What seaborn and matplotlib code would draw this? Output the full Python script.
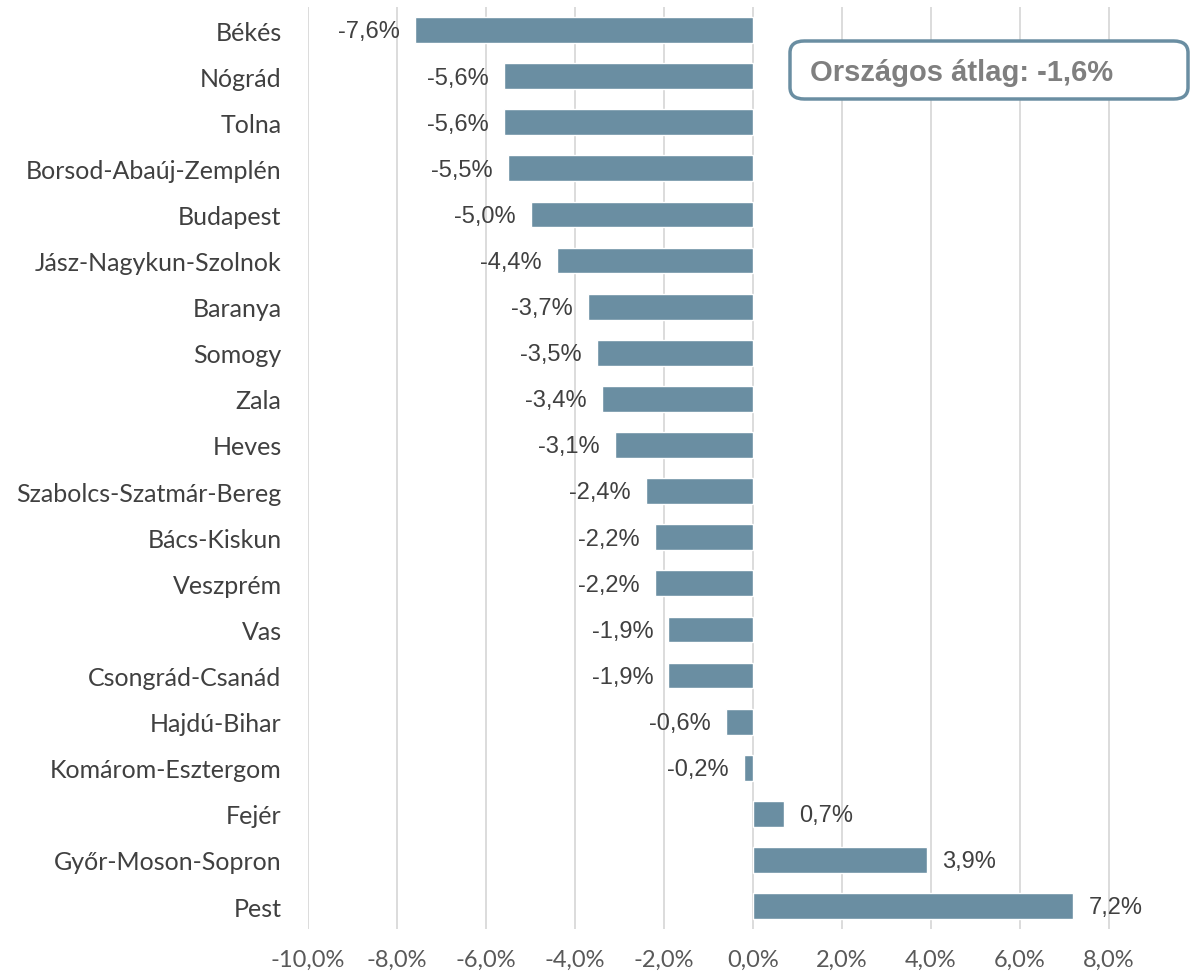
import matplotlib
matplotlib.use('Agg')
import matplotlib.pyplot as plt
import seaborn as sns
import pandas as pd
from matplotlib.patches import FancyBboxPatch

# megyék és a változás (%)
megyek = ['Békés', 'Nógrád', 'Tolna', 'Borsod-Abaúj-Zemplén', 'Budapest',
          'Jász-Nagykun-Szolnok', 'Baranya', 'Somogy', 'Zala', 'Heves',
          'Szabolcs-Szatmár-Bereg', 'Bács-Kiskun', 'Veszprém', 'Vas',
          'Csongrád-Csanád', 'Hajdú-Bihar', 'Komárom-Esztergom', 'Fejér',
          'Győr-Moson-Sopron', 'Pest']
valtozas = [-7.6, -5.6, -5.6, -5.5, -5.0, -4.4, -3.7, -3.5, -3.4, -3.1,
            -2.4, -2.2, -2.2, -1.9, -1.9, -0.6, -0.2, 0.7, 3.9, 7.2]
xtick_ertekek = [-10, -8, -6, -4, -2, 0, 2, 4, 6, 8]
orszagos_atlag = -1.6

df = pd.DataFrame({'megye': megyek, 'valtozas': valtozas})

sns.set_style('white')
plt.rcParams['font.family'] = ['Lato', 'DejaVu Sans']

fig = plt.figure(figsize=(11.92, 9.78), dpi=100)
ax = fig.add_axes([0.2584, 0.049, 0.7416, 0.9428])

sns.barplot(data=df, x='valtozas', y='megye', orient='h', color='#6A8EA2',
            width=0.56, saturation=1, ax=ax)

def fmt(v, dec=1):
    return f'{v:.{dec}f}'.replace('.', ',') + '%'

# címkék a sávok végén
for i, v in enumerate(valtozas):
    if v < 0:
        ax.annotate(fmt(v), (v, i), xytext=(-11, -1), textcoords='offset points',
                    ha='right', va='center', fontsize=17, color='#404040',
                    family='Liberation Sans')
    else:
        ax.annotate(fmt(v), (v, i), xytext=(11, -1), textcoords='offset points',
                    ha='left', va='center', fontsize=17, color='#404040',
                    family='Liberation Sans')

ax.set_xlim(-10, 9.865)
ax.set_ylim(19.5, -0.5)
ax.set_xticks(xtick_ertekek)
ax.set_xticklabels([fmt(t) for t in xtick_ertekek], fontsize=17, color='#595959')
ax.tick_params(axis='y', labelsize=18, labelcolor='#404040', length=0, pad=19)
ax.tick_params(axis='x', length=0, pad=14)
ax.set_xlabel('')
ax.set_ylabel('')
ax.grid(axis='x', color='#D9D9D9', linewidth=1.3)
ax.set_axisbelow(True)
for s in ax.spines.values():
    s.set_visible(False)

# országos átlag doboz
doboz = FancyBboxPatch((790 / 1192, 1 - 100 / 978), 398 / 1192, 58 / 978,
                       boxstyle='round,pad=0,rounding_size=0.012',
                       transform=fig.transFigure, facecolor='white',
                       edgecolor='#6A8EA2', linewidth=2.5, zorder=5)
fig.patches.append(doboz)
fig.text(810 / 1192, 1 - 73 / 978, 'Országos átlag: ' + fmt(orszagos_atlag),
         fontsize=21, fontweight='bold', color='#7F7F7F', ha='left', va='center',
         family='Liberation Sans', zorder=6)

fig.savefig('out.png', dpi=100)
